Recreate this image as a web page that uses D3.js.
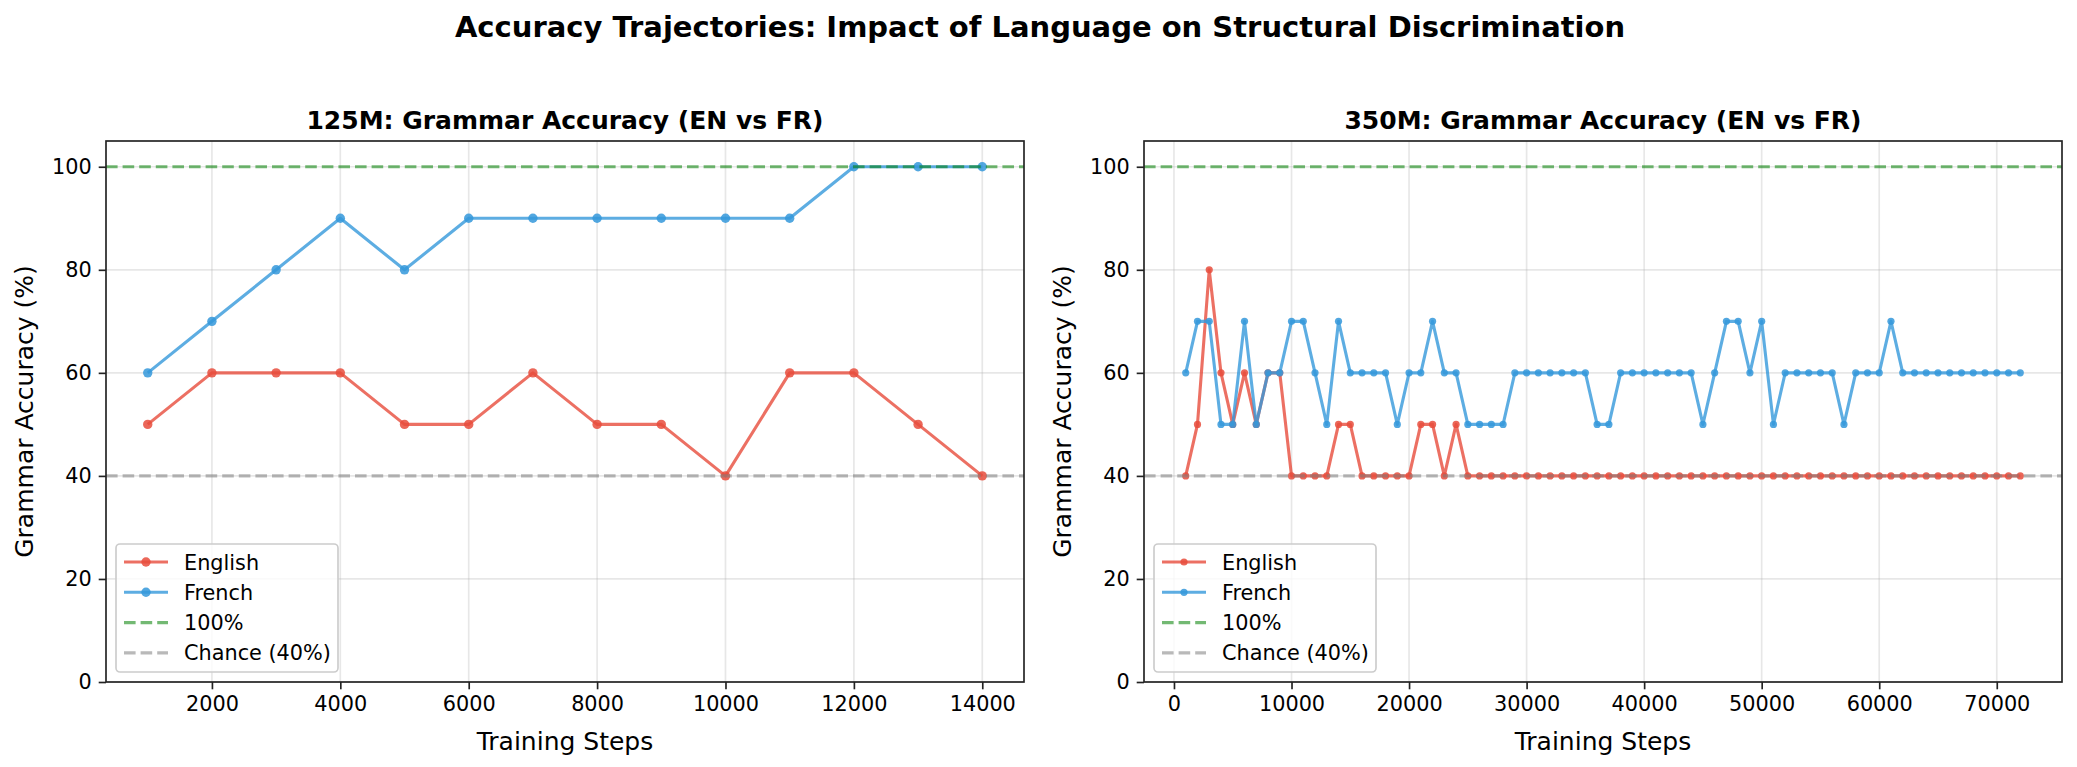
<!DOCTYPE html>
<html>
<head>
<meta charset="utf-8">
<script src="https://cdn.jsdelivr.net/npm/d3@7"></script>
<style>
  body { margin: 0; background: #fff; }
  text { font-family: "DejaVu Sans", sans-serif; fill: #000; }
</style>
</head>
<body>
<script>
// data
const steps125 = [1000, 2000, 3000, 4000, 5000, 6000, 7000, 8000, 9000, 10000, 11000, 12000, 13000, 14000]
const english125 = [50, 60, 60, 60, 50, 50, 60, 50, 50, 40, 60, 60, 50, 40]
const french125 = [60, 70, 80, 90, 80, 90, 90, 90, 90, 90, 90, 100, 100, 100]

const steps350 = [1000, 2000, 3000, 4000, 5000, 6000, 7000, 8000, 9000, 10000,
    11000, 12000, 13000, 14000, 15000, 16000, 17000, 18000, 19000, 20000,
    21000, 22000, 23000, 24000, 25000, 26000, 27000, 28000, 29000, 30000,
    31000, 32000, 33000, 34000, 35000, 36000, 37000, 38000, 39000, 40000,
    41000, 42000, 43000, 44000, 45000, 46000, 47000, 48000, 49000, 50000,
    51000, 52000, 53000, 54000, 55000, 56000, 57000, 58000, 59000, 60000,
    61000, 62000, 63000, 64000, 65000, 66000, 67000, 68000, 69000, 70000,
    71000, 72000]
const english350 = [40, 50, 80, 60, 50, 60, 50, 60, 60, 40,
    40, 40, 40, 50, 50, 40, 40, 40, 40, 40,
    50, 50, 40, 50, 40, 40, 40, 40, 40, 40,
    40, 40, 40, 40, 40, 40, 40, 40, 40, 40,
    40, 40, 40, 40, 40, 40, 40, 40, 40, 40,
    40, 40, 40, 40, 40, 40, 40, 40, 40, 40,
    40, 40, 40, 40, 40, 40, 40, 40, 40, 40,
    40, 40]
const french350 = [60, 70, 70, 50, 50, 70, 50, 60, 60, 70,
    70, 60, 50, 70, 60, 60, 60, 60, 50, 60,
    60, 70, 60, 60, 50, 50, 50, 50, 60, 60,
    60, 60, 60, 60, 60, 50, 50, 60, 60, 60,
    60, 60, 60, 60, 50, 60, 70, 70, 60, 70,
    50, 60, 60, 60, 60, 60, 50, 60, 60, 60,
    70, 60, 60, 60, 60, 60, 60, 60, 60, 60,
    60, 60]

const yTicks = [0, 20, 40, 60, 80, 100]
const xTicks125 = [2000, 4000, 6000, 8000, 10000, 12000, 14000]
const xTicks350 = [0, 10000, 20000, 30000, 40000, 50000, 60000, 70000]
const refLines = [
    { value: 100, label: "100%", color: "#008000" },
    { value: 40, label: "Chance (40%)", color: "#808080" }
]

const mainTitle = "Accuracy Trajectories: Impact of Language on Structural Discrimination"

const W = 2077, H = 767
const plotTop = 141, plotBottom = 682
const red = "#e74c3c", blue = "#3498db"

const svg = d3.select("body").append("svg")
    .attr("width", W)
    .attr("height", H)

svg.append("text")
    .attr("x", 1040).attr("y", 37)
    .attr("text-anchor", "middle")
    .style("font-size", "29px").style("font-weight", "bold")
    .text(mainTitle)

function drawPanel(left, right, title, steps, english, french, xTicks, r) {
    // 5% margins like matplotlib
    const span = steps[steps.length - 1] - steps[0]
    const x = d3.scaleLinear()
        .domain([steps[0] - span * 0.05, steps[steps.length - 1] + span * 0.05])
        .range([left, right])
    const y = d3.scaleLinear().domain([0, 105]).range([plotBottom, plotTop])

    const g = svg.append("g")

    // grid
    g.selectAll(".gx").data(xTicks).join("line")
        .attr("x1", d => x(d)).attr("x2", d => x(d))
        .attr("y1", plotTop).attr("y2", plotBottom)
        .attr("stroke", "#b0b0b0").attr("stroke-opacity", 0.3).attr("stroke-width", 1.67)
    g.selectAll(".gy").data(yTicks).join("line")
        .attr("x1", left).attr("x2", right)
        .attr("y1", d => y(d)).attr("y2", d => y(d))
        .attr("stroke", "#b0b0b0").attr("stroke-opacity", 0.3).attr("stroke-width", 1.67)

    const series = [
        { name: "English", values: english, color: red },
        { name: "French", values: french, color: blue }
    ]
    const line = d3.line().x(d => x(d[0])).y(d => y(d[1]))

    series.forEach(s => {
        const pts = steps.map((st, i) => [st, s.values[i]])
        g.append("path")
            .attr("d", line(pts))
            .attr("fill", "none")
            .attr("stroke", s.color).attr("stroke-opacity", 0.8)
            .attr("stroke-width", 3.1)
            .attr("stroke-linejoin", "round")
        g.selectAll(null).data(pts).join("circle")
            .attr("cx", d => x(d[0])).attr("cy", d => y(d[1]))
            .attr("r", r)
            .attr("fill", s.color).attr("fill-opacity", 0.85)
    })

    refLines.forEach(rl => {
        g.append("line")
            .attr("x1", left).attr("x2", right)
            .attr("y1", y(rl.value)).attr("y2", y(rl.value))
            .attr("stroke", rl.color).attr("stroke-opacity", 0.55)
            .attr("stroke-width", 3.1)
            .attr("stroke-dasharray", "11.6,5")
    })

    // axes
    const xAxis = g.append("g")
        .attr("transform", "translate(0," + plotBottom + ")")
        .call(d3.axisBottom(x).tickValues(xTicks).tickFormat(d3.format("d")).tickSizeOuter(0).tickSize(7.3).tickPadding(7))
    const yAxis = g.append("g")
        .attr("transform", "translate(" + left + ",0)")
        .call(d3.axisLeft(y).tickValues(yTicks).tickSizeOuter(0).tickSize(7.3).tickPadding(7))
    ;[xAxis, yAxis].forEach(a => {
        a.select(".domain").remove()
        a.selectAll(".tick line").attr("stroke", "#222").attr("stroke-width", 1.67)
        a.selectAll(".tick text")
            .style("font-size", "20.8px")
            .style("font-family", "DejaVu Sans")
            .attr("fill", "#000")
    })

    g.append("rect")
        .attr("x", left).attr("y", plotTop)
        .attr("width", right - left).attr("height", plotBottom - plotTop)
        .attr("fill", "none").attr("stroke", "#222").attr("stroke-width", 1.67)

    g.append("text")
        .attr("x", (left + right) / 2).attr("y", 128.5)
        .attr("text-anchor", "middle")
        .style("font-size", "25px").style("font-weight", "bold")
        .text(title)

    g.append("text")
        .attr("x", (left + right) / 2).attr("y", 750)
        .attr("text-anchor", "middle")
        .style("font-size", "25px")
        .text("Training Steps")

    g.append("text")
        .attr("transform", "translate(" + (left - 73) + "," + ((plotTop + plotBottom) / 2) + ") rotate(-90)")
        .attr("text-anchor", "middle")
        .style("font-size", "25px")
        .text("Grammar Accuracy (%)")

    // legend
    const lx = left + 10, ly = 544
    const leg = g.append("g")
    leg.append("rect")
        .attr("x", lx).attr("y", ly)
        .attr("width", 222).attr("height", 128)
        .attr("rx", 4)
        .attr("fill", "#fff").attr("fill-opacity", 0.8)
        .attr("stroke", "#cccccc").attr("stroke-width", 1.67)

    const items = series.map(s => ({ label: s.name, color: s.color, opacity: 0.8, marker: true, dash: null }))
        .concat(refLines.map(rl => ({ label: rl.label, color: rl.color, opacity: 0.55, marker: false, dash: "11.6,5" })))

    items.forEach((it, i) => {
        const cy = ly + 18 + i * 30.3
        leg.append("line")
            .attr("x1", lx + 8).attr("x2", lx + 52)
            .attr("y1", cy).attr("y2", cy)
            .attr("stroke", it.color).attr("stroke-opacity", it.opacity)
            .attr("stroke-width", 3.1)
            .attr("stroke-dasharray", it.dash)
        if (it.marker) {
            leg.append("circle")
                .attr("cx", lx + 30).attr("cy", cy).attr("r", r)
                .attr("fill", it.color).attr("fill-opacity", 0.85)
        }
        leg.append("text")
            .attr("x", lx + 68).attr("y", cy + 7.5)
            .style("font-size", "20.8px")
            .text(it.label)
    })
}

drawPanel(106, 1024, "125M: Grammar Accuracy (EN vs FR)", steps125, english125, french125, xTicks125, 4.7)
drawPanel(1144, 2062, "350M: Grammar Accuracy (EN vs FR)", steps350, english350, french350, xTicks350, 3.6)
</script>
</body>
</html>
